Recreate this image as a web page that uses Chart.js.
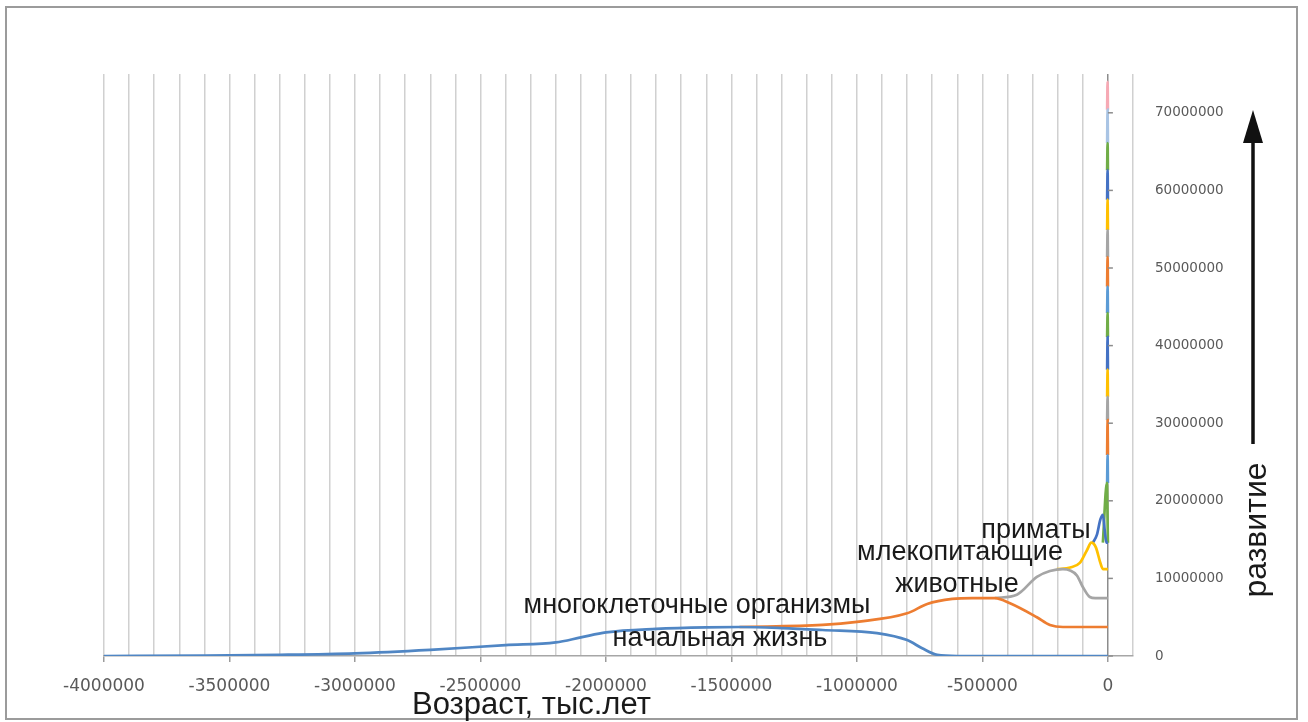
<!DOCTYPE html>
<html>
<head>
<meta charset="utf-8">
<script src="https://cdn.jsdelivr.net/npm/chart.js@4.4.1/dist/chart.umd.min.js"></script>
<style>
    html, body { margin: 0; padding: 0; background: #ffffff; }
    #wrap { width: 1308px; height: 722px; }
</style>
</head>
<body>
<div id="wrap"><canvas id="evolutionChart" width="1308" height="722"></canvas></div>
<script>
// ages in thousand years, levels in millions of units of the right axis
const M = 1000000;

const lifeAge = [-4000000, -3600000, -3300000, -3000000, -2700000, -2400000, -2200000, -2100000, -2000000, -1800000, -1600000, -1468000, -1300000, -1137000, -920000, -800000, -740000, -680000, -600000, 0];
const lifeLevel = [0, 0.05, 0.15, 0.35, 0.8, 1.4, 1.75, 2.4, 3.05, 3.5, 3.7, 3.74, 3.6, 3.35, 2.95, 2.05, 1.0, 0.15, 0, 0];

const multiAge = [-1468000, -1137000, -1000000, -800000, -720000, -620000, -540000, -450000, -390000, -283000, -231000, -179000, 0];
const multiLevel = [3.74, 4.0, 4.4, 5.5, 6.7, 7.35, 7.47, 7.45, 6.8, 5.0, 4.0, 3.74, 3.74];

const animalAge = [-450000, -363000, -283000, -231000, -179000, -124000, -100000, -72000, -50000, 0];
const animalLevel = [7.47, 7.9, 10.2, 10.95, 11.2, 10.4, 8.9, 7.6, 7.47, 7.47];

const mammalAge = [-203000, -150000, -112000, -84000, -66000, -48000, -30000, -20000, 0];
const mammalLevel = [11.2, 11.4, 12.0, 13.6, 14.6, 14.0, 12.0, 11.2, 11.2];

const primateAge = [-60000, -44000, -30000, -20000, -12000, -6000, 0];
const primateLevel = [14.6, 15.6, 17.6, 18.2, 16.0, 14.6, 14.6];

// later stages squeezed against zero: start, peak, end ages
const firstLateAge = [-20000, -4000, 0];
const lateAge = [-3000, -1200, 0];
const latePeak = [22.3, 25.9, 30.4, 33.4, 36.9, 41.1, 44.2, 47.6, 51.4, 54.9, 58.8, 62.6, 66.1, 70.4, 74.0];
const lateColors = ['#70AD47', '#5B9BD5', '#ED7D31', '#A5A5A5', '#FFC000', '#4472C4', '#70AD47', '#5B9BD5', '#ED7D31', '#A5A5A5', '#FFC000', '#4472C4', '#70AD47', '#A9C4E4', '#F6A9B4'];

const stageLabels = ['начальная жизнь', 'многоклеточные организмы', 'животные', 'млекопитающие', 'приматы'];
const stageColors = ['#5086C4', '#ED7D31', '#A5A5A5', '#FFC000', '#4472C4'];

const yTickValues = [0, 10000000, 20000000, 30000000, 40000000, 50000000, 60000000, 70000000];
const xMin = -4000000, xMax = 100000, xStep = 100000, xLabelStep = 500000;
const yMin = 0, yMax = 75000000;

function toPoints(ages, levels) {
    return ages.map((a, i) => ({ x: a, y: levels[i] * M }));
}

function makeLine(label, color, points) {
    return {
        label: label,
        data: points,
        borderColor: color,
        backgroundColor: color,
        borderWidth: 2.7,
        pointRadius: 0,
        fill: false,
        cubicInterpolationMode: 'monotone',
    };
}

const datasets = [
    makeLine(stageLabels[0], stageColors[0], toPoints(lifeAge, lifeLevel)),
    makeLine(stageLabels[1], stageColors[1], toPoints(multiAge, multiLevel)),
    makeLine(stageLabels[2], stageColors[2], toPoints(animalAge, animalLevel)),
    makeLine(stageLabels[3], stageColors[3], toPoints(mammalAge, mammalLevel)),
    makeLine(stageLabels[4], stageColors[4], toPoints(primateAge, primateLevel)),
];

let prevPeak = primateLevel[primateLevel.length - 1];
latePeak.forEach((peak, i) => {
    const levels = [prevPeak, peak, prevPeak];
    const ages = i === 0 ? firstLateAge : lateAge;
    datasets.push(makeLine('этап ' + (i + 6), lateColors[i], toPoints(ages, levels)));
    prevPeak = peak;
});

// axis line ticks at zero, frame, captions and the arrow
const decorPlugin = {
    id: 'decor',
    beforeDraw(chart) {
        const ctx = chart.ctx;
        ctx.save();
        ctx.fillStyle = '#ffffff';
        ctx.fillRect(0, 0, chart.width, chart.height);
        ctx.restore();
    },
    afterDraw(chart) {
        const ctx = chart.ctx;
        const xs = chart.scales.x, ys = chart.scales.y;
        const x0 = xs.getPixelForValue(0);

        ctx.save();
        ctx.strokeStyle = '#8c8c8c';
        ctx.lineWidth = 1.5;
        yTickValues.forEach(v => {
            const py = ys.getPixelForValue(v);
            ctx.beginPath();
            ctx.moveTo(x0, py);
            ctx.lineTo(x0 + 5, py);
            ctx.stroke();
        });

        // frame
        ctx.strokeStyle = '#9b9b9b';
        ctx.lineWidth = 2;
        ctx.strokeRect(6, 7, 1291, 712);

        // stage captions
        ctx.fillStyle = '#1a1a1a';
        ctx.textAlign = 'center';
        ctx.textBaseline = 'alphabetic';
        ctx.font = '27px "Liberation Sans", Arial, sans-serif';
        ctx.fillText('многоклеточные организмы', 697, 613);
        ctx.fillText('начальная жизнь', 720, 646);
        ctx.fillText('животные', 957, 592);
        ctx.fillText('млекопитающие', 960, 560);
        ctx.fillText('приматы', 1036, 538);

        // x axis title
        ctx.font = '31px "Liberation Sans", Arial, sans-serif';
        ctx.textAlign = 'left';
        ctx.fillText('Возраст, тыс.лет', 412, 714);

        // development arrow
        ctx.strokeStyle = '#111111';
        ctx.lineWidth = 3.5;
        ctx.beginPath();
        ctx.moveTo(1253, 444);
        ctx.lineTo(1253, 138);
        ctx.stroke();
        ctx.fillStyle = '#111111';
        ctx.beginPath();
        ctx.moveTo(1253, 110);
        ctx.lineTo(1243, 143);
        ctx.lineTo(1263, 143);
        ctx.closePath();
        ctx.fill();

        ctx.translate(1266, 530);
        ctx.rotate(-Math.PI / 2);
        ctx.font = '32px "Liberation Sans", Arial, sans-serif';
        ctx.textAlign = 'center';
        ctx.fillStyle = '#1a1a1a';
        ctx.fillText('развитие', 0, 0);
        ctx.restore();
    }
};

Chart.defaults.font.family = '"DejaVu Sans", sans-serif';
Chart.defaults.color = '#595959';

const evolutionCanvas = document.getElementById('evolutionChart').getContext('2d');
const evolutionChart = new Chart(evolutionCanvas, {
    type: 'line',
    data: { datasets: datasets },
    plugins: [decorPlugin],
    options: {
        responsive: false,
        animation: false,
        devicePixelRatio: 1,
        layout: {
            padding: { left: 104, right: 75, top: 74, bottom: 0 }
        },
        plugins: {
            legend: { display: false },
            tooltip: { enabled: false },
        },
        scales: {
            x: {
                type: 'linear',
                min: xMin,
                max: xMax,
                afterFit: function(scale) {
                    scale.height = 66;
                },
                ticks: {
                    stepSize: xStep,
                    autoSkip: false,
                    maxRotation: 0,
                    padding: 14,
                    font: { size: 17 },
                    callback: function(value) {
                        const k = Math.round(value / xStep);
                        if (k % (xLabelStep / xStep) === 0 && value <= 0) {
                            return String(k * xStep);
                        }
                        return '';
                    }
                },
                grid: {
                    color: function(context) {
                        return context.tick && context.tick.value === 0 ? '#8c8c8c' : '#d0d0d0';
                    },
                    lineWidth: 1.5,
                    tickLength: 6,
                    tickColor: function(context) {
                        const k = Math.round(context.tick.value / xStep);
                        return k % (xLabelStep / xStep) === 0 ? '#9b9b9b' : 'rgba(0,0,0,0)';
                    },
                },
                border: {
                    display: true,
                    color: '#a6a6a6',
                    width: 1.5,
                }
            },
            y: {
                type: 'linear',
                position: 'right',
                min: yMin,
                max: yMax,
                afterFit: function(scale) {
                    scale.width = 100;
                },
                afterBuildTicks: function(scale) {
                    scale.ticks = yTickValues.map(v => ({ value: v }));
                },
                ticks: {
                    padding: 14,
                    font: { size: 13.5 },
                    callback: function(value) {
                        return String(value);
                    }
                },
                grid: { display: false },
                border: { display: false },
            }
        }
    }
});
</script>
</body>
</html>
